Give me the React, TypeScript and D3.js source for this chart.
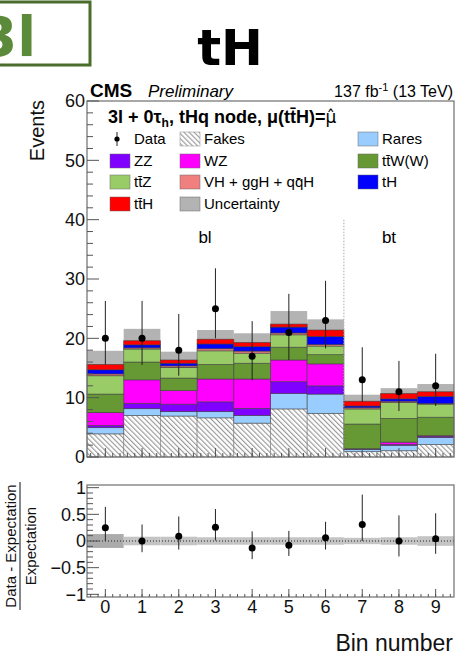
import React from "react";
import * as d3 from "d3";

// bins 0..9
const bins = [0, 1, 2, 3, 4, 5, 6, 7, 8, 9];

// expected yields per process (stacked bottom -> top)
const fakes = [3.9, 7.0, 6.9, 6.6, 5.7, 8.1, 7.35, 0.9, 1.06, 2.1];
const rares = [1.05, 1.15, 0.75, 1.05, 1.3, 2.6, 3.25, 0.4, 0.91, 1.2];
const zz = [0.35, 0.9, 1.25, 1.65, 1.2, 2.0, 1.4, 0.05, 0.13, 0.2];
const wz = [2.2, 3.95, 2.3, 3.85, 4.95, 3.65, 3.7, 0.05, 0.4, 0.1];
const ttw = [3.1, 3.0, 2.1, 2.45, 2.65, 2.15, 1.55, 4.15, 4.0, 3.1];
const ttz = [3.1, 2.2, 1.8, 2.3, 1.7, 2.1, 1.45, 2.55, 2.7, 2.2];
const vh = [0.3, 0.2, 0.25, 0.35, 0.35, 0.3, 0.25, 0.2, 0.2, 0.1];
const th = [0.7, 0.5, 0.45, 0.8, 0.75, 1.0, 1.35, 0.3, 0.4, 1.2];
const tth = [0.9, 0.7, 0.55, 0.8, 0.7, 0.5, 1.1, 0.8, 0.9, 0.8];
const uncert = [2.3, 2.0, 1.4, 1.55, 1.55, 2.2, 1.8, 1.1, 0.9, 1.3];

// observed data
const dataObs = [20, 20, 18, 25, 17, 21, 23, 13, 11, 12];
const dataHi = [26.3, 26.3, 24.1, 31.8, 22.9, 27.5, 29.7, 18.5, 16.2, 17.4];
const dataLo = [15.6, 15.5, 13.7, 20.0, 12.9, 16.35, 18.3, 9.3, 7.75, 8.6];

// ratio panel
const ratio = [0.25, 0.0, 0.09, 0.26, -0.13, -0.08, 0.06, 0.31, 0.0, 0.04];
const ratioHi = [0.64, 0.31, 0.46, 0.6, 0.18, 0.19, 0.36, 0.87, 0.48, 0.52];
const ratioLo = [0.0, -0.21, -0.16, 0.01, -0.34, -0.28, -0.16, 0.0, -0.29, -0.24];
const ratioUnc = [0.13, 0.08, 0.08, 0.07, 0.07, 0.07, 0.07, 0.06, 0.07, 0.09];

const yTicks = [0, 10, 20, 30, 40, 50, 60];
const rTicks = [-1, -0.5, 0, 0.5, 1];

const procs = [
  { key: "fakes", vals: fakes, color: "url(#hatch)" },
  { key: "rares", vals: rares, color: "#99ccff" },
  { key: "zz", vals: zz, color: "#8000ff" },
  { key: "wz", vals: wz, color: "#ff00ff" },
  { key: "ttw", vals: ttw, color: "#669933" },
  { key: "ttz", vals: ttz, color: "#99cc66" },
  { key: "vh", vals: vh, color: "#f08080" },
  { key: "th", vals: th, color: "#0000ff" },
  { key: "tth", vals: tth, color: "#ff0000" },
];

const FONT = "'Liberation Sans', Arial, Helvetica, sans-serif";

export default function App() {
  const x = d3.scaleLinear().domain([-0.5, 9.5]).range([87, 454]);
  const y = d3.scaleLinear().domain([0, 60]).range([457, 101]);
  const yr = d3.scaleLinear().domain([-1.05, 1.05]).range([597, 485]);

  const rows = bins.map((b) => {
    const r: any = { bin: b };
    procs.forEach((p) => (r[p.key] = p.vals[b]));
    return r;
  });
  const stack = d3.stack().keys(procs.map((p) => p.key))(rows);
  const totals = bins.map((b) => procs.reduce((s, p) => s + p.vals[b], 0));

  const minorY = d3.range(0, 60.01, 2);
  const minorR = d3.range(-1, 1.001, 0.1);
  const minorX = d3.range(-0.4, 9.5, 0.2);

  const legend = [
    [
      { t: "Data", kind: "data" },
      { t: "Fakes", c: "url(#hatch)" },
      { t: "Rares", c: "#99ccff" },
    ],
    [
      { t: "ZZ", c: "#8000ff" },
      { t: "WZ", c: "#ff00ff" },
      { t: "tt\u0304W(W)", c: "#669933" },
    ],
    [
      { t: "tt\u0304Z", c: "#99cc66" },
      { t: "VH + ggH + qq\u0304H", c: "#f08080" },
      { t: "tH", c: "#0000ff" },
    ],
    [
      { t: "tt\u0304H", c: "#ff0000" },
      { t: "Uncertainty", c: "#b3b3b3" },
    ],
  ];
  const colX = [110, 180, 358];
  const rowY = [139, 161, 182, 204];

  return (
    <svg width={462} height={658} style={{ position: "absolute", left: 0, top: 0 }} fontFamily={FONT}>
      <defs>
        <pattern id="hatch" patternUnits="userSpaceOnUse" width={3.6} height={3.6} patternTransform="rotate(-45)">
          <rect width={3.6} height={3.6} fill="white" />
          <line x1={0.6} y1={0} x2={0.6} y2={3.6} stroke="#8a8a8a" strokeWidth={1} />
        </pattern>
      </defs>
      <rect width={462} height={658} fill="white" />

      {/* titles */}
      <rect x={-10} y={2} width={100} height={63} fill="none" stroke="#4b6d2c" strokeWidth={3} />
      <text x={-21} y={56} fontFamily="'DejaVu Sans', sans-serif" fontWeight="bold" fontSize={55} fill="#5b8a3b">3l</text>
      <text x={230} y={65} textAnchor="middle" fontFamily="'DejaVu Sans', sans-serif" fontWeight="bold" fontSize={50} fill="#000">tH</text>

      <text x={90} y={97} fontSize={19} fontWeight="bold">CMS</text>
      <text x={148} y={97} fontSize={17} fontStyle="italic">Preliminary</text>
      <text x={453} y={97} fontSize={16} textAnchor="end">
        137 fb<tspan fontSize={11} dy={-6}>-1</tspan><tspan dy={6}> (13 TeV)</tspan>
      </text>

      {/* uncertainty band behind stack */}
      {bins.map((b) => (
        <rect key={"u" + b} x={x(b - 0.5)} width={x(b + 0.5) - x(b - 0.5)} y={y(totals[b] + uncert[b])}
          height={y(totals[b] - uncert[b]) - y(totals[b] + uncert[b])} fill="#b3b3b3" />
      ))}

      {/* stacked histograms */}
      {stack.map((layer, li) => (
        <g key={layer.key}>
          {layer.map((d, i) => (
            <rect key={i} x={x(i - 0.5)} width={x(i + 0.5) - x(i - 0.5)} y={y(d[1])}
              height={Math.max(0, y(d[0]) - y(d[1]))} fill={procs[li].color}
              stroke={li === 0 ? "#777" : "#3c3c3c"} strokeOpacity={0.7} strokeWidth={0.8} />
          ))}
        </g>
      ))}

      {/* separator */}
      <line x1={x(6.5)} x2={x(6.5)} y1={y(40)} y2={y(0)} stroke="#aaa" strokeDasharray="1.5,1.5" />
      <text x={205} y={243} fontSize={17} textAnchor="middle">bl</text>
      <text x={389} y={243} fontSize={17} textAnchor="middle">bt</text>

      {/* data points */}
      {bins.map((b) => (
        <g key={"d" + b}>
          <line x1={x(b)} x2={x(b)} y1={y(dataHi[b])} y2={y(dataLo[b])} stroke="#222" strokeWidth={1} />
          <circle cx={x(b)} cy={y(dataObs[b])} r={3.5} fill="#000" />
        </g>
      ))}

      {/* main frame */}
      <rect x={87} y={101} width={367} height={356} fill="none" stroke="#6e6e6e" strokeWidth={1.2} />
      {minorY.map((v) => (
        <line key={"my" + v} x1={87} x2={87 + (v % 10 === 0 ? 12 : 6)} y1={y(v)} y2={y(v)} stroke="#555" />
      ))}
      {yTicks.map((v) => (
        <text key={"yl" + v} x={85} y={y(v)} dy="0.36em" fontSize={18} textAnchor="end" fill="#111">{v}</text>
      ))}
      {minorX.map((v, i) => (
        <line key={"mx" + i} x1={x(v)} x2={x(v)} y1={457} y2={457 - 4} stroke="#555" />
      ))}
      {bins.map((b) => (
        <line key={"Mx" + b} x1={x(b)} x2={x(b)} y1={457} y2={457 - 9} stroke="#555" />
      ))}
      <text transform="translate(44,100) rotate(-90)" fontSize={20} textAnchor="end" fill="#111">Events</text>

      {/* legend */}
      <text x={108} y={123} fontSize={18} fontWeight="bold">
        3l + 0τ<tspan fontSize={12} dy={4}>h</tspan><tspan dy={-4}>, tHq node,  μ(tt̄H)=</tspan>
        <tspan fontFamily="'DejaVu Sans', sans-serif" fontWeight="normal" fontSize={17}>{"\u03bc\u0302"}</tspan>
      </text>
      {legend.map((row, ri) =>
        row.map((it: any, ci) => (
          <g key={ri + "-" + ci}>
            {it.kind === "data" ? (
              <g>
                <line x1={colX[ci] + 7} x2={colX[ci] + 7} y1={rowY[ri] - 7} y2={rowY[ri] + 7} stroke="#222" />
                <circle cx={colX[ci] + 7} cy={rowY[ri]} r={2.6} fill="#000" />
              </g>
            ) : (
              <rect x={colX[ci]} y={rowY[ri] - 7} width={20} height={14} fill={it.c}
                stroke={it.c === "url(#hatch)" ? "#888" : "#666"} strokeOpacity={0.6} strokeWidth={0.8} />
            )}
            <text x={colX[ci] + 24} y={rowY[ri]} dy="0.36em" fontSize={15}>{it.t}</text>
          </g>
        ))
      )}

      {/* ratio panel */}
      {bins.map((b) => (
        <rect key={"ru" + b} x={x(b - 0.5)} width={x(b + 0.5) - x(b - 0.5)} y={yr(ratioUnc[b])}
          height={yr(-ratioUnc[b]) - yr(ratioUnc[b])} fill={b === 0 ? "#ababab" : "#c4c4c4"} />
      ))}
      <line x1={87} x2={454} y1={yr(0)} y2={yr(0)} stroke="#222" strokeDasharray="1,2" />
      {bins.map((b) => (
        <g key={"r" + b}>
          <line x1={x(b)} x2={x(b)} y1={yr(ratioHi[b])} y2={yr(ratioLo[b])} stroke="#222" strokeWidth={1} />
          <circle cx={x(b)} cy={yr(ratio[b])} r={3.5} fill="#000" />
        </g>
      ))}
      <rect x={87} y={485} width={367} height={112} fill="none" stroke="#6e6e6e" strokeWidth={1.2} />
      {minorR.map((v, i) => (
        <line key={"mr" + i} x1={87} x2={87 + (Math.abs((v * 2) - Math.round(v * 2)) < 1e-6 ? 12 : 6)}
          y1={yr(v)} y2={yr(v)} stroke="#555" />
      ))}
      {rTicks.map((v) => (
        <text key={"rl" + v} x={86} y={yr(v)} dy="0.36em" fontSize={18} textAnchor="end" fill="#111">
          {v < 0 ? "\u2212" + Math.abs(v) : v}
        </text>
      ))}
      {minorX.map((v, i) => (
        <line key={"rmx" + i} x1={x(v)} x2={x(v)} y1={597} y2={597 - 3} stroke="#555" />
      ))}
      {bins.map((b) => (
        <g key={"rx" + b}>
          <line x1={x(b)} x2={x(b)} y1={597} y2={597 - 8} stroke="#555" />
          <text x={x(b)} y={613} fontSize={18} textAnchor="middle" fill="#111">{b}</text>
        </g>
      ))}
      <text x={453} y={651} fontSize={23} textAnchor="end" fill="#111">Bin number</text>
      <g transform="translate(0,546) rotate(-90)">
        <text x={0} y={16} fontSize={15} textAnchor="middle" fill="#111">Data - Expectation</text>
        <line x1={-64} x2={64} y1={20} y2={20} stroke="#111" strokeWidth={1} />
        <text x={0} y={36} fontSize={15} textAnchor="middle" fill="#111">Expectation</text>
      </g>
    </svg>
  );
}
